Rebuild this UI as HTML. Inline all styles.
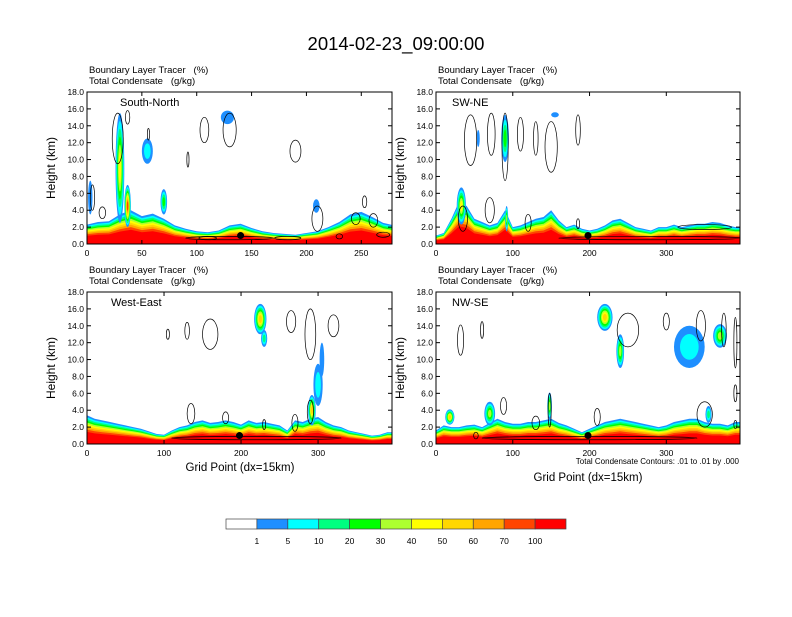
<!DOCTYPE html>
<html><head><meta charset="utf-8">
<style>
body{margin:0;background:#fff;}
svg text{font-family:"Liberation Sans",Arial,sans-serif;fill:#000;white-space:pre;}
</style></head>
<body>
<svg id="fig" width="792" height="612" viewBox="0 0 792 612" xmlns="http://www.w3.org/2000/svg">
<rect width="792" height="612" fill="#fff"/>
<text x="396" y="50" font-size="18.5" text-anchor="middle">2014-02-23_09:00:00</text>
<g id="panels"></g>
<g id="cbar"></g>
<text x="240" y="471" font-size="11.5" text-anchor="middle">Grid Point (dx=15km)</text>
<text x="588" y="481" font-size="11.5" text-anchor="middle">Grid Point (dx=15km)</text>
<text x="739" y="464" font-size="8" text-anchor="end">Total Condensate Contours: .01 to .01 by .000</text>
</svg>
<script>
// ---- colorbar data ----
const levelLabels = ["1","5","10","20","30","40","50","60","70","100"];
const levelColors = ["#ffffff","#1e8fff","#00ffff","#00ff80","#00ff00","#adff2f","#ffff00","#ffd700","#ffa500","#ff4500","#ff0000"];
// ---- panel data ----
const panelTitles = ["South-North","SW-NE","West-East","NW-SE"];
const panelXMax = [278,396,396,396];
const panelTicks = [[0,50,100,150,200,250],[0,100,200,300],[0,100,200,300],[0,100,200,300]];
const yTicks = [0,2,4,6,8,10,12,14,16,18];
// boundary-layer tracer top (km) sampled every 10 grid points
const blTopSN = [2.3,2.6,2.7,3.5,4.0,3.3,3.6,3.0,2.2,1.8,1.5,1.4,1.6,2.2,2.4,1.9,1.5,1.3,1.2,1.1,1.3,1.5,2.0,2.6,3.5,3.8,3.2,2.5,2.2];
const blTopSWNE = [1.0,1.3,3.0,5.0,4.5,3.0,2.6,2.2,2.5,4.0,2.0,2.2,2.6,3.0,3.2,4.0,2.8,2.0,2.3,1.8,1.6,1.8,2.2,2.8,3.0,2.5,2.0,1.8,1.6,2.0,2.0,2.3,2.0,2.2,2.4,2.4,2.6,2.5,2.2,2.0];
const blTopWE = [3.4,3.0,2.8,2.6,2.4,2.2,2.0,1.8,1.5,1.2,1.1,1.6,2.0,2.2,2.6,2.8,2.5,2.6,2.8,2.6,2.3,2.8,2.5,2.6,2.4,2.2,1.6,2.8,2.6,3.0,3.2,2.6,2.2,2.0,1.6,1.4,1.2,1.0,1.1,1.4];
const blTopNWSE = [1.6,2.2,2.0,2.0,2.2,2.3,2.0,2.5,3.0,2.6,2.4,2.4,2.6,2.6,2.8,3.0,2.5,2.2,1.8,1.4,1.8,2.2,2.6,2.8,3.0,2.8,2.6,2.4,2.2,2.0,2.2,2.6,2.8,3.0,3.0,2.6,2.4,2.4,2.2,2.6];
const blTops = [blTopSN,blTopSWNE,blTopWE,blTopNWSE];
// plumes: [gridX, heightKm, halfWidthGrid, halfHeightKm, maxLevelIndex]
const plumesSN = [[30,9,4,6.5,6],[37,4.5,3,2.5,9],[55,11,5,1.5,2],[70,5,3,1.5,4],[3,5.5,2,2,1],[128,15,6,0.8,1],[209,4.5,3,0.8,1]];
const plumesSWNE = [[33,4.5,6,2.2,6],[90,12.5,5,2.8,4],[55,12.5,2,1,1],[155,15.3,5,0.3,1],[92,3,2,1.5,5]];
const plumesWE = [[225,14.8,8,1.8,7],[230,12.5,4,1,3],[292,4,5,1.8,7],[300,7,6,2.5,2],[305,10,3,2,1]];
const plumesNWSE = [[18,3.2,6,0.9,7],[70,3.6,7,1.4,5],[148,4.5,3,1.6,5],[220,15.0,10,1.6,7],[240,11,5,2,5],[330,11.5,20,2.5,2],[370,12.8,9,1.4,5],[355,3.5,4,1,3]];
const plumeSets = [plumesSN,plumesSWNE,plumesWE,plumesNWSE];
// condensate contours: [gridX, heightKm, halfWidthGrid, halfHeightKm]
const contSN = [[28,12.5,5,3],[37,15,2,0.8],[5,5.5,2,1.5],[14,3.7,3,0.7],[92,10,1,0.9],[107,13.5,4,1.5],[56,13,1,0.7],[130,13.5,6,2],[190,11,5,1.3],[210,3,5,1.5],[253,5,2,0.7],[245,3,4,0.7],[261,2.8,4,0.8],[130,0.7,40,0.2],[110,0.7,8,0.2],[183,0.7,12,0.2],[230,0.9,3,0.3],[270,1.1,6,0.3]];
const contSWNE = [[45,12.3,8,3],[72,13,5,2.5],[90,11.5,4,4],[110,13,4,2],[130,12.5,3,2],[150,11.5,8,3],[185,13.5,3,1.8],[70,4,6,1.5],[35,3,6,1.5],[120,2.5,4,1],[350,2,35,0.3],[280,0.7,120,0.2],[185,2.4,2,0.6]];
const contWE = [[105,13,2,0.6],[160,13,10,1.8],[130,13.4,3,1],[265,14.5,6,1.3],[290,13,7,3],[320,14,7,1.3],[135,3.6,5,1.2],[180,3.1,4,0.7],[270,2.5,4,1],[290,3.8,4,1.4],[230,2.3,2,0.6],[220,0.7,110,0.2]];
const contNWSE = [[32,12.3,4,1.8],[60,13.5,2,1],[250,13.5,14,2],[300,14.5,4,1],[345,14,6,1.8],[375,13.5,3,2],[390,12,2,3],[390,6,2,1],[88,4.5,4,1],[130,2.5,5,0.8],[148,4,2,2],[210,3.2,4,1],[350,3.5,10,1.5],[390,2.3,2,0.5],[200,0.7,140,0.2],[52,1,3,0.4]];
const contSets = [contSN,contSWNE,contWE,contNWSE];
const dotX = [140,198,198,198];
const dotY = [1.0,1.0,1.0,1.0];

const NS="http://www.w3.org/2000/svg";
function mk(tag,attrs,parent){const e=document.createElementNS(NS,tag);for(const k in attrs)e.setAttribute(k,attrs[k]);if(parent)parent.appendChild(e);return e;}
const boxes=[[87,92,305,152],[436,92,304,152],[87,292,305,152],[436,292,304,152]];
const fracs=[1.0,0.93,0.87,0.81,0.75,0.69,0.63,0.57,0.5,0.42];
const pg=document.getElementById('panels');
boxes.forEach((b,p)=>{
  const [bx,by,bw,bh]=b;
  const xs=v=>bx+v/panelXMax[p]*bw;
  const ys=v=>by+bh-v/18*bh;
  const g=mk('g',{},pg);
  
  
  const t1=mk('text',{x:bx+2,y:by-19,'font-size':9.5},g);t1.textContent="Boundary Layer Tracer   (%)";
  
  
  const t2=mk('text',{x:bx+2,y:by-8,'font-size':9.5},g);t2.textContent="Total Condensate   (g/kg)";
  
  
  const clip=mk('clipPath',{id:'c'+p},g);mk('rect',{x:bx,y:by,width:bw,height:bh},clip);
  const plot=mk('g',{'clip-path':'url(#c'+p+')'},g);
  const tops=blTops[p];
  fracs.forEach((f,i)=>{
    let d='M'+bx+','+(by+bh);
    tops.forEach((h,j)=>{d+=' L'+xs(j*10).toFixed(1)+','+ys(h*f).toFixed(1);});
    d+=' L'+(bx+bw)+','+ys(tops[tops.length-1]*f).toFixed(1)+' L'+(bx+bw)+','+(by+bh)+'Z';
    const path=mk('path',{d:d,fill:levelColors[i+1]},plot);
    
    
  });
  plumeSets[p].forEach(pl=>{
    const [px,py,rw,rh,lv]=pl;
    for(let k=1;k<=lv;k++){
      const s=1-(k-1)/(lv+0.3)*0.9;
      const e=mk('ellipse',{cx:xs(px),cy:ys(py),rx:rw/panelXMax[p]*bw*s,ry:rh/18*bh*s,fill:levelColors[k]},plot);
      
      
    }
  });
  contSets[p].forEach(c=>{
    const e=mk('ellipse',{cx:xs(c[0]),cy:ys(c[1]),rx:c[2]/panelXMax[p]*bw,ry:c[3]/18*bh,fill:'none',stroke:'#000','stroke-width':0.7},plot);
    
    
  });
  const dot=mk('circle',{cx:xs(dotX[p]),cy:ys(dotY[p]),r:3.5,fill:'#000'},g);
  
  
  mk('rect',{x:bx,y:by,width:bw,height:bh,fill:'none',stroke:'#000','stroke-width':1},g);
  const lab=mk('text',{x:bx+(p==1||p==3?16:(p==2?24:33)),y:by+14,'font-size':11},g);lab.textContent=panelTitles[p];
  
  
  yTicks.forEach(v=>{
    const y=ys(v);
    mk('line',{x1:bx,x2:bx+4,y1:y,y2:y,stroke:'#000'},g);
    mk('line',{x1:bx+bw,x2:bx+bw-4,y1:y,y2:y,stroke:'#000'},g);
    const tt=mk('text',{x:bx-3,y:y+3,'font-size':8.5,'text-anchor':'end'},g);tt.textContent=v.toFixed(1);
    
    
  });
  panelTicks[p].forEach(v=>{
    const x=xs(v);
    mk('line',{x1:x,x2:x,y1:by+bh,y2:by+bh-4,stroke:'#000'},g);
    mk('line',{x1:x,x2:x,y1:by,y2:by+4,stroke:'#000'},g);
    const tt=mk('text',{x:x,y:by+bh+12,'font-size':8.5,'text-anchor':'middle'},g);tt.textContent=v;
    
    
  });
  const yl=mk('text',{x:0,y:0,'font-size':12,'text-anchor':'middle',transform:'translate('+(bx-32)+','+(by+bh/2)+') rotate(-90)'},g);yl.textContent="Height (km)";
  
  
});
const cb=document.getElementById('cbar');
const cbx=226,cbw=340,cby=519,cbh=10,cw=cbw/levelColors.length;
levelColors.forEach((c,i)=>{
  const r=mk('rect',{x:cbx+i*cw,y:cby,width:cw,height:cbh,fill:c,stroke:'#444','stroke-width':0.7},cb);
  
  
});
levelLabels.forEach((l,i)=>{
  const t=mk('text',{x:cbx+(i+1)*cw,y:cby+25,'font-size':8.5,'text-anchor':'middle'},cb);t.textContent=l;
  
  
});
</script>
</body></html>
